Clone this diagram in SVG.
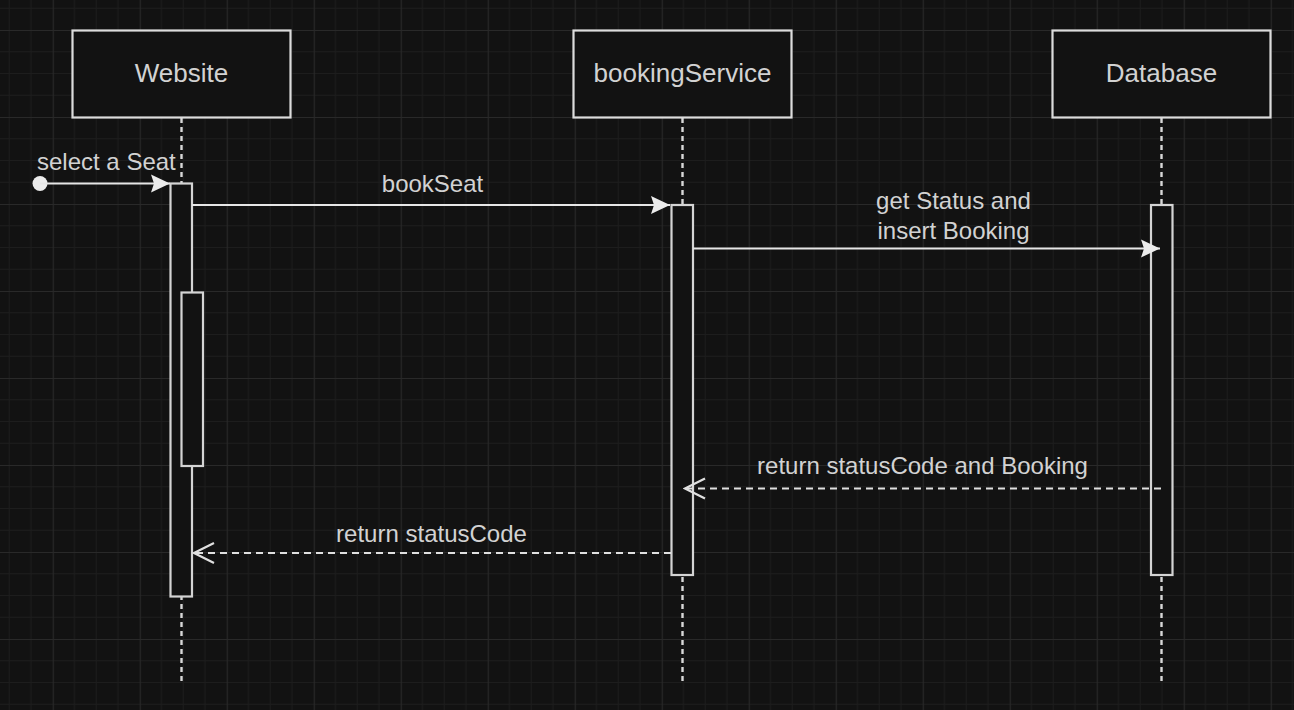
<svg xmlns="http://www.w3.org/2000/svg" width="1294" height="710" viewBox="0 0 1294 710">
  <style>
    .box { fill: #121212; stroke: #dcdcdc; stroke-width: 2.2; }
    .bar { fill: #121212; stroke: #d4d4d4; stroke-width: 2.2; }
    .life { stroke: #d8d8d8; stroke-width: 2.4; stroke-dasharray: 5 4; fill: none; }
    .msg { stroke: #e6e6e6; stroke-width: 2.2; fill: none; }
    .ret { stroke: #e0e0e0; stroke-width: 2.2; fill: none; stroke-dasharray: 7 5; }
    .title { font-family: "Liberation Sans", Arial, sans-serif; font-size: 26px; fill: #d2d2d2; text-anchor: middle; }
    .lbl { font-family: "Liberation Sans", Arial, sans-serif; font-size: 24px; fill: #d2d2d2; text-anchor: middle; }
  </style>
  <defs>
    <pattern id="grid" patternUnits="userSpaceOnUse" x="52.7" y="30" width="87" height="87">
      <rect width="87" height="87" fill="#121212"/>
      <path d="M21.75 0V87M43.5 0V87M65.25 0V87M0 21.75H87M0 43.5H87M0 65.25H87" stroke="#1d1d1d" stroke-width="1"/>
      <path d="M0.5 0V87M0 0.5H87" stroke="#292929" stroke-width="1.2"/>
    </pattern>
    <marker id="block" viewBox="0 0 20 20" refX="19" refY="10" markerWidth="20" markerHeight="20" markerUnits="userSpaceOnUse" orient="auto">
      <path d="M0 1 L19 10 L0 19 L3 10 Z" fill="#ececec"/>
    </marker>
    <marker id="open" viewBox="0 0 24 24" refX="22" refY="12" markerWidth="24" markerHeight="24" markerUnits="userSpaceOnUse" orient="auto">
      <path d="M2 2 L22 12 L2 22" fill="none" stroke="#e0e0e0" stroke-width="2.2"/>
    </marker>
  </defs>

  <rect width="1294" height="710" fill="url(#grid)"/>

  <g id="website">
    <line class="life" x1="181.5" y1="118" x2="181.5" y2="685"/>
    <rect class="bar" x="170.5" y="183.5" width="21.5" height="413"/>
    <rect class="bar" x="181.5" y="292.5" width="21.5" height="173.5"/>
    <rect class="box" x="72.5" y="30.5" width="218" height="87"/>
    <text class="title" x="181.5" y="82">Website</text>
  </g>

  <g id="bookingService">
    <line class="life" x1="682.5" y1="118" x2="682.5" y2="685"/>
    <rect class="bar" x="671.5" y="205" width="21.5" height="370"/>
    <rect class="box" x="573.5" y="30.5" width="218" height="87"/>
    <text class="title" x="682.5" y="82">bookingService</text>
  </g>

  <g id="database">
    <line class="life" x1="1161.5" y1="118" x2="1161.5" y2="685"/>
    <rect class="bar" x="1151" y="205" width="21.5" height="370"/>
    <rect class="box" x="1052.5" y="30.5" width="218" height="87"/>
    <text class="title" x="1161.5" y="82">Database</text>
  </g>

  <g id="connectors">
    <circle cx="40" cy="183.5" r="7.5" fill="#ececec"/>
    <line class="msg" x1="40" y1="183.5" x2="170" y2="183.5" marker-end="url(#block)"/>
    <line class="msg" x1="192" y1="205" x2="670" y2="205" marker-end="url(#block)"/>
    <line class="msg" x1="693" y1="248.5" x2="1160" y2="248.5" marker-end="url(#block)"/>
    <line class="ret" x1="1161" y1="488.5" x2="685" y2="488.5" marker-end="url(#open)"/>
    <line class="ret" x1="671" y1="553" x2="194" y2="553" marker-end="url(#open)"/>
  </g>

  <g id="labels">
    <text class="lbl" x="37" y="169.5" style="text-anchor:start">select a Seat</text>
    <text class="lbl" x="432.5" y="191.5">bookSeat</text>
    <text class="lbl" x="953.5" y="208.5">get Status and</text>
    <text class="lbl" x="953.5" y="239">insert Booking</text>
    <text class="lbl" x="922.5" y="474">return statusCode and Booking</text>
    <text class="lbl" x="431.5" y="541.5">return statusCode</text>
  </g>
</svg>
